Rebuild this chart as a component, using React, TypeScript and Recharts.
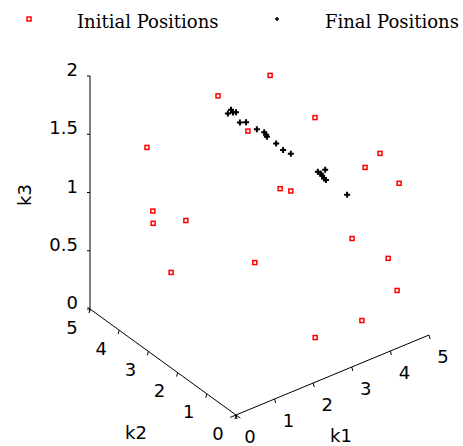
import React from "react";
import { ScatterChart, Scatter, XAxis, YAxis } from "recharts";

// Initial positions (k1, k2, k3)
const initK1 = [3.91, 2.56, 3.56, 2.2, 4.1, 1.9, 3.69, 0.72, 4.11, 4.83, 1.25, 0.5, 0.97, 4.52, 4.32, 2.0, 0.21, 4.4, 3.64, 2.43];
const initK2 = [4, 4, 2, 2.5, 1, 1, 3, 4, 0.5, 0.8, 4.5, 3.5, 3, 2, 0.5, 2, 2.5, 0.3, 0.5, 0.5];
const initK3 = [1.65, 1.66, 1.7, 1.68, 1.38, 1.5, 0.87, 1.47, 1.59, 1.18, 0.76, 0.94, 0.99, 0.53, 0.66, 0.67, 0.74, 0.41, 0.22, 0.24];

// Final positions (k1, k2, k3)
const finK1 = [2.06, 2.14, 2.19, 2.27, 2.37, 2.53, 2.81, 3.0, 3.05, 3.07, 3.31, 3.49, 3.69, 4.39, 4.47, 4.5, 4.55, 4.6, 4.58, 4.77];
const finK2 = [3, 3, 3, 3, 3, 3, 3, 3, 3, 3, 3, 3, 3, 3, 3, 3, 3, 3, 3, 2.5];
const finK3 = [1.76, 1.78, 1.75, 1.74, 1.64, 1.62, 1.52, 1.47, 1.44, 1.42, 1.33, 1.25, 1.19, 0.94, 0.91, 0.89, 0.86, 0.84, 0.93, 0.78];

const k1Ticks = [0, 1, 2, 3, 4, 5];
const k2Ticks = [0, 1, 2, 3, 4, 5];
const k3Ticks = [0, 0.5, 1, 1.5, 2];

const W = 463;
const H = 446;

// oblique projection of 3D (k1,k2,k3) into the 2D plot space
const O = { x: 236, y: 415 };
const E1 = { x: 38.6, y: -16 };
const E2 = { x: -29.2, y: -21.2 };
const E3 = { x: 0, y: -116.5 };
const proj = (a: number, b: number, c: number, label?: string) => ({
  x: O.x + E1.x * a + E2.x * b + E3.x * c,
  y: O.y + E1.y * a + E2.y * b + E3.y * c,
  label,
});

const initData = initK1.map((v, i) => proj(v, initK2[i], initK3[i]));
const finData = finK1.map((v, i) => proj(v, finK2[i], finK3[i]));

const k1Axis = [proj(-0.15, 0, 0), proj(5, 0, 0)];
const k2Axis = [proj(0, -0.15, 0), proj(0, 5.08, 0)];
const k3Axis = [proj(0, 5, -0.02), proj(0, 5, 2)];

const k1TickData = k1Ticks.map((t) => proj(t, 0, 0, String(t)));
const k2TickData = k2Ticks.map((t) => proj(0, t, 0, String(t)));
const k3TickData = k3Ticks.map((t) => proj(0, 5, t, String(t)));

const FONT = "'DejaVu Sans', sans-serif";
const SERIF = "'DejaVu Serif', serif";

const NoDot = () => <g />;

const RedSquare = (p: any) => (
  <rect x={p.cx - 2} y={p.cy - 2} width={4} height={4} fill="#fff" stroke="#ff0000" strokeWidth={1.5} />
);
const BlackPlus = (p: any) => (
  <path d={`M${p.cx - 3},${p.cy}H${p.cx + 3}M${p.cx},${p.cy - 3}V${p.cy + 3}`} stroke="#000" strokeWidth={2} fill="none" />
);

const K1Tick = (p: any) => (
  <g>
    <line x1={p.cx} y1={p.cy} x2={p.cx + 1} y2={p.cy + 4} stroke="#000" strokeWidth={1} />
    <text x={p.cx + 14} y={p.cy + 27.5} textAnchor="middle" fontFamily={FONT} fontSize={18} fill="#000">
      {p.payload.label}
    </text>
  </g>
);
const K2Tick = (p: any) => (
  <g>
    <line x1={p.cx} y1={p.cy} x2={p.cx - 1} y2={p.cy + 4} stroke="#000" strokeWidth={1} />
    <text x={p.cx - 18} y={p.cy + 24.5} textAnchor="middle" fontFamily={FONT} fontSize={18} fill="#000">
      {p.payload.label}
    </text>
  </g>
);
const K3Tick = (p: any) => (
  <g>
    <line x1={p.cx} y1={p.cy} x2={p.cx - 3} y2={p.cy} stroke="#000" strokeWidth={1} />
    <text x={p.cx - 12} y={p.cy} textAnchor="end" fontFamily={FONT} fontSize={18} fill="#000">
      {p.payload.label}
    </text>
  </g>
);

export default function App() {
  return (
    <div style={{ position: "absolute", left: 0, top: 0, width: W, height: H, background: "#fff" }}>
      <ScatterChart width={W} height={H} margin={{ top: 0, right: 0, bottom: 0, left: 0 }}>
        <XAxis type="number" dataKey="x" domain={[0, W]} hide allowDataOverflow />
        <YAxis type="number" dataKey="y" domain={[0, H]} hide reversed width={0} allowDataOverflow />
        <Scatter data={k1Axis} line={{ stroke: "#000", strokeWidth: 1 }} shape={NoDot} isAnimationActive={false} />
        <Scatter data={k2Axis} line={{ stroke: "#000", strokeWidth: 1 }} shape={NoDot} isAnimationActive={false} />
        <Scatter data={k3Axis} line={{ stroke: "#000", strokeWidth: 1 }} shape={NoDot} isAnimationActive={false} />
        <Scatter data={k1TickData} shape={K1Tick} isAnimationActive={false} />
        <Scatter data={k2TickData} shape={K2Tick} isAnimationActive={false} />
        <Scatter data={k3TickData} shape={K3Tick} isAnimationActive={false} />
        <Scatter name="Initial Positions" data={initData} shape={RedSquare} isAnimationActive={false} />
        <Scatter name="Final Positions" data={finData} shape={BlackPlus} isAnimationActive={false} />
      </ScatterChart>
      <svg width={W} height={H} style={{ position: "absolute", left: 0, top: 0, pointerEvents: "none" }}>
        <rect x={27} y={17} width={4} height={4} fill="#fff" stroke="#ff0000" strokeWidth={1.5} />
        <text x={77} y={28} fontFamily={SERIF} fontSize={18} fill="#000">Initial Positions</text>
        <path d="M275,19H279M277,17V21" stroke="#000" strokeWidth={1.5} />
        <text x={325} y={28} fontFamily={SERIF} fontSize={18} fill="#000">Final Positions</text>
        <text x={25} y={195} transform="rotate(-90 25 195)" dy={6} textAnchor="middle" fontFamily={FONT} fontSize={18} fill="#000">k3</text>
        <text x={136} y={438.5} textAnchor="middle" fontFamily={FONT} fontSize={18} fill="#000">k2</text>
        <text x={341} y={442} textAnchor="middle" fontFamily={FONT} fontSize={18} fill="#000">k1</text>
      </svg>
    </div>
  );
}
